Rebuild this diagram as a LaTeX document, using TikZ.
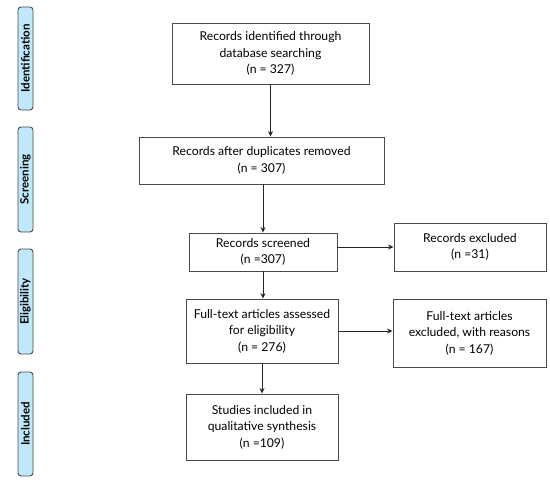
\documentclass[tikz,border=0pt]{standalone}
\usepackage{fontspec}
\setmainfont{Lato}
\usepackage{xcolor}
\usetikzlibrary{arrows.meta, positioning, calc}

\definecolor{phasefill}{HTML}{BFE9FB}
\definecolor{boxline}{HTML}{4A4A4A}

\begin{document}
\begin{tikzpicture}[x=1pt, y=-1pt,
    stepbox/.style={draw=boxline, line width=0.9pt, fill=white, align=center, inner sep=2pt,
        font=\fontsize{12.2}{16.6}\selectfont},
    phasebox/.style={draw=boxline, line width=0.9pt, rounded corners=3pt, fill=phasefill,
        rotate=90, minimum height=15pt, inner sep=1pt, font=\bfseries\fontsize{11.5}{12}\selectfont},
    arrow/.style={-{Stealth[length=5.5pt, width=5pt]}, line width=1pt, draw=black!85}
]
    \useasboundingbox (0,0) rectangle (550,482);

    % phase labels
    \node[phasebox, minimum width=103pt] (p1) at (25.5, 58.5) {Identification};
    \node[phasebox, minimum width=105pt] (p2) at (25.5, 179.5) {Screening};
    \node[phasebox, minimum width=105pt] (p3) at (25.5, 301.5) {Eligibility};
    \node[phasebox, minimum width=104pt] (p4) at (25.5, 424) {Included};

    % main column
    \node[stepbox, minimum width=197pt, minimum height=61pt] (s1) at (270.5, 53.5) {Records identified through\\database searching\\(n = 327)};
    \node[stepbox, minimum width=245pt, minimum height=47pt] (s2) at (261.5, 160.5) {Records after duplicates removed\\(n = 307)};
    \node[stepbox, minimum width=148pt, minimum height=38pt] (s3) at (263, 252) {Records screened\\(n =307)};
    \node[stepbox, minimum width=152pt, minimum height=64pt] (s4) at (262, 331) {Full-text articles assessed\\for eligibility\\(n = 276)};
    \node[stepbox, minimum width=152pt, minimum height=66pt] (s5) at (262, 427) {Studies included in\\qualitative synthesis\\(n =109)};

    % exclusions
    \node[stepbox, minimum width=152pt, minimum height=48pt] (x1) at (470, 247) {Records excluded\\(n =31)};
    \node[stepbox, minimum width=153pt, minimum height=68pt] (x2) at (469.5, 333) {Full-text articles\\excluded, with reasons\\(n = 167)};

    \draw[arrow] (s1.south) -- (s1.south |- s2.north);
    \draw[arrow] (s2.south -| s3.north) -- (s3.north);
    \draw[arrow] (s3.south) -- (s3.south |- s4.north);
    \draw[arrow] (s4.south) -- (s5.north);
    \draw[arrow] (s3.east |- x1.west) -- (x1.west);
    \draw[arrow] (s4.east) -- (s4.east -| x2.west);
\end{tikzpicture}
\end{document}
